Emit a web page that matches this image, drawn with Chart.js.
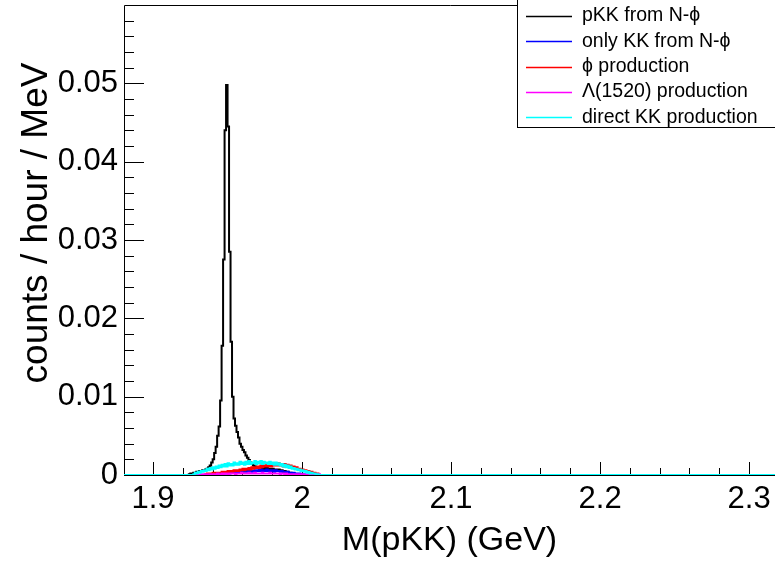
<!DOCTYPE html>
<html>
<head>
<meta charset="utf-8">
<script src="https://cdn.jsdelivr.net/npm/chart.js@4.4.0/dist/chart.umd.min.js"></script>
<style>
  html, body { margin: 0; padding: 0; background: #fff; overflow: hidden; }
  #wrap { width: 775px; height: 563px; }
</style>
</head>
<body>
<div id="wrap"><canvas id="massChart" width="775" height="563"></canvas></div>
<script>
// histogram binning: 1 MeV bins, first bin starts at 1.920 GeV
const binStart = 1.920;
const binWidth = 0.001;

const xTickValues = [1.9, 2.0, 2.1, 2.2, 2.3];
const xTickLabels = ['1.9', '2', '2.1', '2.2', '2.3'];
const yTickValues = [0, 0.01, 0.02, 0.03, 0.04, 0.05];
const yTickLabels = ['0', '0.01', '0.02', '0.03', '0.04', '0.05'];

const seriesNames = [
  'pKK from N-\u03D5',
  'only KK from N-\u03D5',
  '\u03D5 production',
  '\u039B(1520) production',
  'direct KK production'
];

// counts / hour / MeV per bin
const pkkFromNphi = [
  0, 0, 0, 0, 0.0001, 0.0002, 0.0002, 0.0003, 0.0003, 0.0004,
  0.0004, 0.0005, 0.0005, 0.0006, 0.0006, 0.0007, 0.0008, 0.0010, 0.0012, 0.0016,
  0.0020, 0.0028, 0.0036, 0.0050, 0.0062, 0.0095, 0.0165, 0.0275, 0.0440, 0.0498,
  0.0445, 0.0285, 0.0170, 0.0100, 0.0072, 0.0063, 0.0055, 0.0048, 0.0040, 0.0036,
  0.0032, 0.0029, 0.0025, 0.0022, 0.0019, 0.0016, 0.0014, 0.0012, 0.0011, 0.0010,
  0.0009, 0.0008, 0.0010, 0.0007, 0.0009, 0.0007, 0.0009, 0.0006, 0.0008, 0.0007,
  0.0008, 0.0006, 0.0007, 0.0005, 0.0007, 0.0005, 0.0006, 0.0004, 0.0005, 0.0003,
  0.0004, 0.0002, 0.0003, 0.0002, 0.0002, 0.0001
];

const kkFromNphi = [
  0, 0, 0, 0, 0, 0, 0, 0, 0, 0,
  0, 0, 0, 0, 0, 0, 0, 0, 0, 0,
  0.0001, 0.0001, 0.0002, 0.0001, 0.0002, 0.0001, 0.0002, 0.0002, 0.0003, 0.0002,
  0.0003, 0.0002, 0.0003, 0.0003, 0.0004, 0.0003, 0.0004, 0.0003, 0.0005, 0.0003,
  0.0004, 0.0005, 0.0004, 0.0005, 0.0004, 0.0006, 0.0004, 0.0005, 0.0006, 0.0005,
  0.0006, 0.0005, 0.0007, 0.0005, 0.0006, 0.0005, 0.0007, 0.0005, 0.0006, 0.0005,
  0.0006, 0.0004, 0.0006, 0.0005, 0.0005, 0.0004, 0.0005, 0.0004, 0.0004, 0.0003,
  0.0004, 0.0003, 0.0003, 0.0002, 0.0003, 0.0002, 0.0002, 0.0001, 0.0002, 0.0001,
  0.0001, 0.0001
];

const phiProduction = [
  0, 0, 0, 0, 0, 0, 0, 0, 0, 0,
  0, 0, 0, 0, 0,
  0.0001, 0.0002, 0.0001, 0.0002, 0.0001, 0.0003, 0.0002, 0.0003, 0.0002, 0.0003,
  0.0003, 0.0004, 0.0003, 0.0004, 0.0003, 0.0005, 0.0004, 0.0005, 0.0004, 0.0006,
  0.0005, 0.0006, 0.0005, 0.0007, 0.0006, 0.0008, 0.0006, 0.0008, 0.0007, 0.0009,
  0.0007, 0.0010, 0.0008, 0.0010, 0.0009, 0.0011, 0.0009, 0.0012, 0.0010, 0.0012,
  0.0011, 0.0013, 0.0011, 0.0014, 0.0011, 0.0015, 0.0012, 0.0014, 0.0012, 0.0015,
  0.0012, 0.0014, 0.0011, 0.0014, 0.0011, 0.0013, 0.0010, 0.0012, 0.0009, 0.0011,
  0.0008, 0.0010, 0.0007, 0.0008, 0.0006, 0.0007, 0.0005, 0.0006, 0.0004, 0.0005,
  0.0003, 0.0004, 0.0002, 0.0003, 0.0001, 0.0002
];

const lambdaProduction = [
  0, 0, 0, 0, 0, 0, 0, 0, 0, 0,
  0, 0,
  0.0001, 0.0001, 0.0001, 0.0001, 0.0001, 0.0001, 0.0001, 0.0001, 0.0001, 0.0001,
  0.0001, 0.0002, 0.0001, 0.0001, 0.0002, 0.0001, 0.0002, 0.0002, 0.0001, 0.0002,
  0.0002, 0.0002, 0.0002, 0.0001, 0.0002, 0.0002, 0.0002, 0.0003, 0.0002, 0.0002,
  0.0002, 0.0002, 0.0003, 0.0002, 0.0002, 0.0002, 0.0003, 0.0002, 0.0002, 0.0002,
  0.0002, 0.0003, 0.0002, 0.0002, 0.0002, 0.0002, 0.0003, 0.0002, 0.0002, 0.0002,
  0.0002, 0.0002, 0.0002, 0.0001, 0.0002, 0.0002, 0.0001, 0.0002, 0.0001, 0.0001,
  0.0001, 0.0001, 0.0001, 0.0001, 0.0001, 0.0001, 0.0001, 0.0001, 0.0001, 0.0001,
  0.0001, 0.0001, 0.0001, 0.0001, 0.0001, 0.0001, 0.0001, 0.0001, 0.0001, 0.0001
];

const directKK = [
  0, 0, 0, 0, 0, 0, 0,
  0.0001, 0.0003, 0.0002, 0.0004, 0.0003, 0.0005, 0.0004, 0.0006, 0.0005, 0.0008,
  0.0006, 0.0009, 0.0007, 0.0010, 0.0008, 0.0011, 0.0009, 0.0012, 0.0010, 0.0013,
  0.0011, 0.0014, 0.0011, 0.0015, 0.0012, 0.0014, 0.0012, 0.0016, 0.0013, 0.0015,
  0.0013, 0.0017, 0.0014, 0.0016, 0.0013, 0.0017, 0.0014, 0.0018, 0.0014, 0.0016,
  0.0015, 0.0018, 0.0014, 0.0017, 0.0015, 0.0018, 0.0014, 0.0017, 0.0015, 0.0016,
  0.0014, 0.0017, 0.0014, 0.0016, 0.0013, 0.0016, 0.0013, 0.0015, 0.0012, 0.0014,
  0.0011, 0.0013, 0.0010, 0.0012, 0.0009, 0.0011, 0.0008, 0.0009, 0.0007, 0.0008,
  0.0006, 0.0007, 0.0005, 0.0006, 0.0004, 0.0005, 0.0003, 0.0004, 0.0002, 0.0003,
  0.0002, 0.0002, 0.0001, 0.0001
];

const xMin = 1.8805;
const xMax = 2.3174;
const yMax = 0.06;

const FONT = "'Liberation Sans', Arial, Helvetica, sans-serif";

// turn bin contents into step points (left edge of each bin), zero outside
const toSteps = (values) => {
  const pts = [{ x: xMin, y: 0 }];
  values.forEach((v, i) => {
    pts.push({ x: +(binStart + i * binWidth).toFixed(4), y: v });
  });
  pts.push({ x: +(binStart + values.length * binWidth).toFixed(4), y: 0 });
  pts.push({ x: xMax, y: 0 });
  return pts;
};

const histDataset = (label, values, color, order) => ({
  label,
  data: toSteps(values),
  borderColor: color,
  backgroundColor: color,
  borderWidth: 2,
  stepped: true,
  pointRadius: 0,
  fill: false,
  order
});

// frame and inward ticks, drawn under the histograms
const frameTicks = {
  id: 'frameTicks',
  beforeDatasetsDraw(chart) {
    const { ctx, chartArea: a, scales: { x, y } } = chart;
    ctx.save();
    ctx.strokeStyle = '#000';
    ctx.lineWidth = 1;
    ctx.beginPath();
    ctx.moveTo(a.left + 0.5, a.bottom + 0.5);
    ctx.lineTo(a.left + 0.5, a.top + 0.5);
    ctx.lineTo(a.right + 2, a.top + 0.5);
    ctx.moveTo(a.left, a.bottom + 0.5);
    ctx.lineTo(a.right + 2, a.bottom + 0.5);
    for (let k = 0; k <= 20; k++) {
      const px = Math.round(x.getPixelForValue(1.9 + k * 0.02)) + 0.5;
      const len = k % 5 === 0 ? 13 : 7;
      ctx.moveTo(px, a.bottom);
      ctx.lineTo(px, a.bottom - len);
    }
    for (let k = 1; k <= 29; k++) {
      const py = Math.round(y.getPixelForValue(k * 0.002)) + 0.5;
      const len = k % 5 === 0 ? 20 : 10;
      ctx.moveTo(a.left, py);
      ctx.lineTo(a.left + len, py);
    }
    ctx.stroke();
    ctx.restore();
  }
};

// y title and legend box
const labelsAndLegend = {
  id: 'labelsAndLegend',
  afterDraw(chart) {
    const { ctx } = chart;
    ctx.save();
    ctx.fillStyle = '#000';
    ctx.font = `37px ${FONT}`;
    ctx.translate(47, 223);
    ctx.rotate(-Math.PI / 2);
    ctx.textAlign = 'center';
    ctx.textBaseline = 'alphabetic';
    ctx.fillText('counts / hour / MeV', 0, 0);
    ctx.restore();

    ctx.save();
    ctx.fillStyle = '#fff';
    ctx.fillRect(517, -1, 270, 129);
    ctx.strokeStyle = '#000';
    ctx.lineWidth = 1;
    ctx.strokeRect(517.5, -1.5, 270, 129);
    ctx.font = `19.5px ${FONT}`;
    ctx.textBaseline = 'middle';
    ctx.textAlign = 'left';
    const shown = [...chart.data.datasets].sort((p, q) => q.order - p.order);
    shown.forEach((ds, i) => {
      const rowY = 16 + i * 25.3;
      ctx.strokeStyle = ds.borderColor;
      ctx.lineWidth = 1.5;
      ctx.beginPath();
      ctx.moveTo(526, Math.round(rowY) + 0.5);
      ctx.lineTo(572, Math.round(rowY) + 0.5);
      ctx.stroke();
      ctx.fillStyle = '#000';
      ctx.fillText(ds.label, 582, rowY);
    });
    ctx.restore();
  }
};

new Chart(document.getElementById('massChart'), {
  type: 'line',
  data: {
    datasets: [
      histDataset(seriesNames[0], pkkFromNphi, '#000000', 5),
      histDataset(seriesNames[1], kkFromNphi, '#0000ff', 4),
      histDataset(seriesNames[2], phiProduction, '#ff0000', 3),
      histDataset(seriesNames[3], lambdaProduction, '#ff00ff', 2),
      histDataset(seriesNames[4], directKK, '#00ffff', 1)
    ]
  },
  options: {
    responsive: false,
    animation: false,
    events: [],
    layout: { padding: { top: 5, right: 0, left: 0, bottom: 0 } },
    plugins: { legend: { display: false }, tooltip: { enabled: false } },
    scales: {
      x: {
        type: 'linear',
        min: xMin,
        max: xMax,
        grid: { display: false, drawTicks: false },
        border: { display: false },
        afterBuildTicks: (s) => { s.ticks = xTickValues.map(v => ({ value: v })); },
        afterFit: (s) => {
          s.height = 88;
          s.paddingLeft = 0;
          s.paddingRight = 0;
        },
        ticks: {
          color: '#000',
          padding: 6,
          maxRotation: 0,
          autoSkip: false,
          font: { family: FONT, size: 31 },
          callback: (v) => xTickLabels[xTickValues.indexOf(v)]
        },
        title: {
          display: true,
          text: 'M(pKK) (GeV)',
          color: '#000',
          font: { family: FONT, size: 34 },
          padding: { top: 0, bottom: 2 }
        }
      },
      y: {
        min: 0,
        max: yMax,
        grid: { display: false, drawTicks: false },
        border: { display: false },
        afterBuildTicks: (s) => { s.ticks = yTickValues.map(v => ({ value: v })); },
        afterFit: (s) => {
          s.width = 124;
          s.paddingTop = 0;
          s.paddingBottom = 0;
        },
        ticks: {
          color: '#000',
          padding: 6,
          autoSkip: false,
          font: { family: FONT, size: 31 },
          callback: (v) => yTickLabels[yTickValues.indexOf(v)]
        }
      }
    }
  },
  plugins: [frameTicks, labelsAndLegend]
});
</script>
</body>
</html>
